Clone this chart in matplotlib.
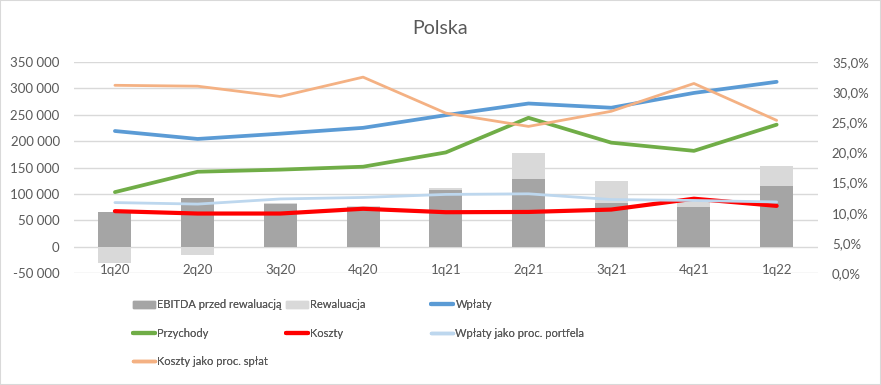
import numpy as np
import matplotlib
matplotlib.use('Agg')
import matplotlib.pyplot as plt
from matplotlib.patches import Patch, Rectangle
from matplotlib.lines import Line2D
from matplotlib.ticker import FuncFormatter

plt.rcParams['font.family'] = ['Lato', 'DejaVu Sans']

quarters = ['1q20', '2q20', '3q20', '4q20', '1q21', '2q21', '3q21', '4q21', '1q22']
ebitda = [66000, 92500, 81000, 76000, 107000, 128000, 82000, 76000, 115000]
rewaluacja = [-31000, -15000, 2000, 2000, 4000, 49000, 42000, 15000, 38000]
wplaty = [219000, 204000, 214000, 225000, 249000, 271000, 263000, 291000, 312000]
przychody = [103500, 142000, 146000, 151500, 178500, 244000, 197000, 181500, 231000]
koszty = [67500, 63000, 63000, 72000, 65500, 66000, 70500, 91000, 77500]
wplaty_proc = [11.7, 11.45, 12.3, 12.55, 13.05, 13.15, 12.2, 12.05, 11.8]
koszty_proc = [31.1, 30.95, 29.25, 32.45, 26.5, 24.3, 26.8, 31.4, 25.3]

txt = '#595959'
c_dark = '#a5a5a5'
c_light = '#d9d9d9'
c_blue = '#5b9bd5'
c_green = '#70ad47'
c_red = '#ff0000'
c_lblue = '#bdd7ee'
c_orange = '#f4b183'

x = np.arange(len(quarters))
eb = np.array(ebitda)
rw = np.array(rewaluacja)

fig = plt.figure(figsize=(8.81, 3.85), dpi=100)
ax = fig.add_axes([0.0835, 0.2901, 0.845, 0.5496])
ax2 = ax.twinx()

ax.bar(x, eb, width=0.4, color=c_dark, zorder=2)
ax.bar(x, rw, width=0.4, bottom=np.where(rw >= 0, eb, 0), color=c_light, zorder=2)
ax.plot(x, wplaty, color=c_blue, lw=2.7, solid_capstyle='round', zorder=3)
ax.plot(x, przychody, color=c_green, lw=2.7, solid_capstyle='round', zorder=3)
ax.plot(x, koszty, color=c_red, lw=3.0, solid_capstyle='round', zorder=3)
ax2.plot(x, wplaty_proc, color=c_lblue, lw=2.0, solid_capstyle='round')
ax2.plot(x, koszty_proc, color=c_orange, lw=2.0, solid_capstyle='round')

ax.set_xlim(-0.5, len(quarters) - 0.5)
ax.set_ylim(-50000, 350000)
ax.set_yticks(np.arange(-50000, 350001, 50000))
ax.yaxis.set_major_formatter(FuncFormatter(lambda v, p: '{:,.0f}'.format(v).replace(',', ' ')))
ax2.set_ylim(0, 35)
ax2.set_yticks(np.arange(0, 36, 5))
ax2.yaxis.set_major_formatter(FuncFormatter(lambda v, p: '{:.1f}%'.format(v).replace('.', ',')))

ax.grid(axis='y', color='#d9d9d9', lw=1, zorder=0)
ax.set_axisbelow(True)
for a in (ax, ax2):
    for s in a.spines.values():
        s.set_visible(False)
ax.set_xticks(x)
ax.set_xticklabels(quarters)
ax.tick_params(axis='x', length=0, pad=-7, labelsize=9.5, labelcolor=txt)
ax.tick_params(axis='y', length=0, pad=10, labelsize=9.5, labelcolor=txt)
ax2.tick_params(axis='y', length=0, pad=10, labelsize=9.5, labelcolor=txt)

fig.text(0.5, 0.927, 'Polska', ha='center', va='center', fontsize=14, color=txt)

# legend, Excel-like row order -> three column legends
cols = [
    [(Patch(color=c_dark), 'EBITDA przed rewaluacją'),
     (Line2D([], [], color=c_green, lw=3, solid_capstyle='round'), 'Przychody'),
     (Line2D([], [], color=c_orange, lw=2.5, solid_capstyle='round'), 'Koszty jako proc. spłat')],
    [(Patch(color=c_light), 'Rewaluacja'),
     (Line2D([], [], color=c_red, lw=3, solid_capstyle='round'), 'Koszty')],
    [(Line2D([], [], color=c_blue, lw=3, solid_capstyle='round'), 'Wpłaty'),
     (Line2D([], [], color=c_lblue, lw=2.5, solid_capstyle='round'), 'Wpłaty jako proc. portfela')],
]
xs = [133, 285.5, 431]
for cx, items in zip(xs, cols):
    leg = fig.legend([h for h, _ in items], [l for _, l in items],
                     loc='upper left', bbox_to_anchor=(cx / 881, 1 - 299 / 385),
                     frameon=False, fontsize=8.0, labelcolor=txt,
                     handlelength=2.0, handleheight=0.6, handletextpad=0.2,
                     labelspacing=1.58, borderpad=0, borderaxespad=0)
    fig.add_artist(leg)

fig.add_artist(Rectangle((0, 0), 1, 1, transform=fig.transFigure, fill=False,
                         edgecolor='#d9d9d9', lw=1.5))

fig.savefig('out.png', dpi=100)
